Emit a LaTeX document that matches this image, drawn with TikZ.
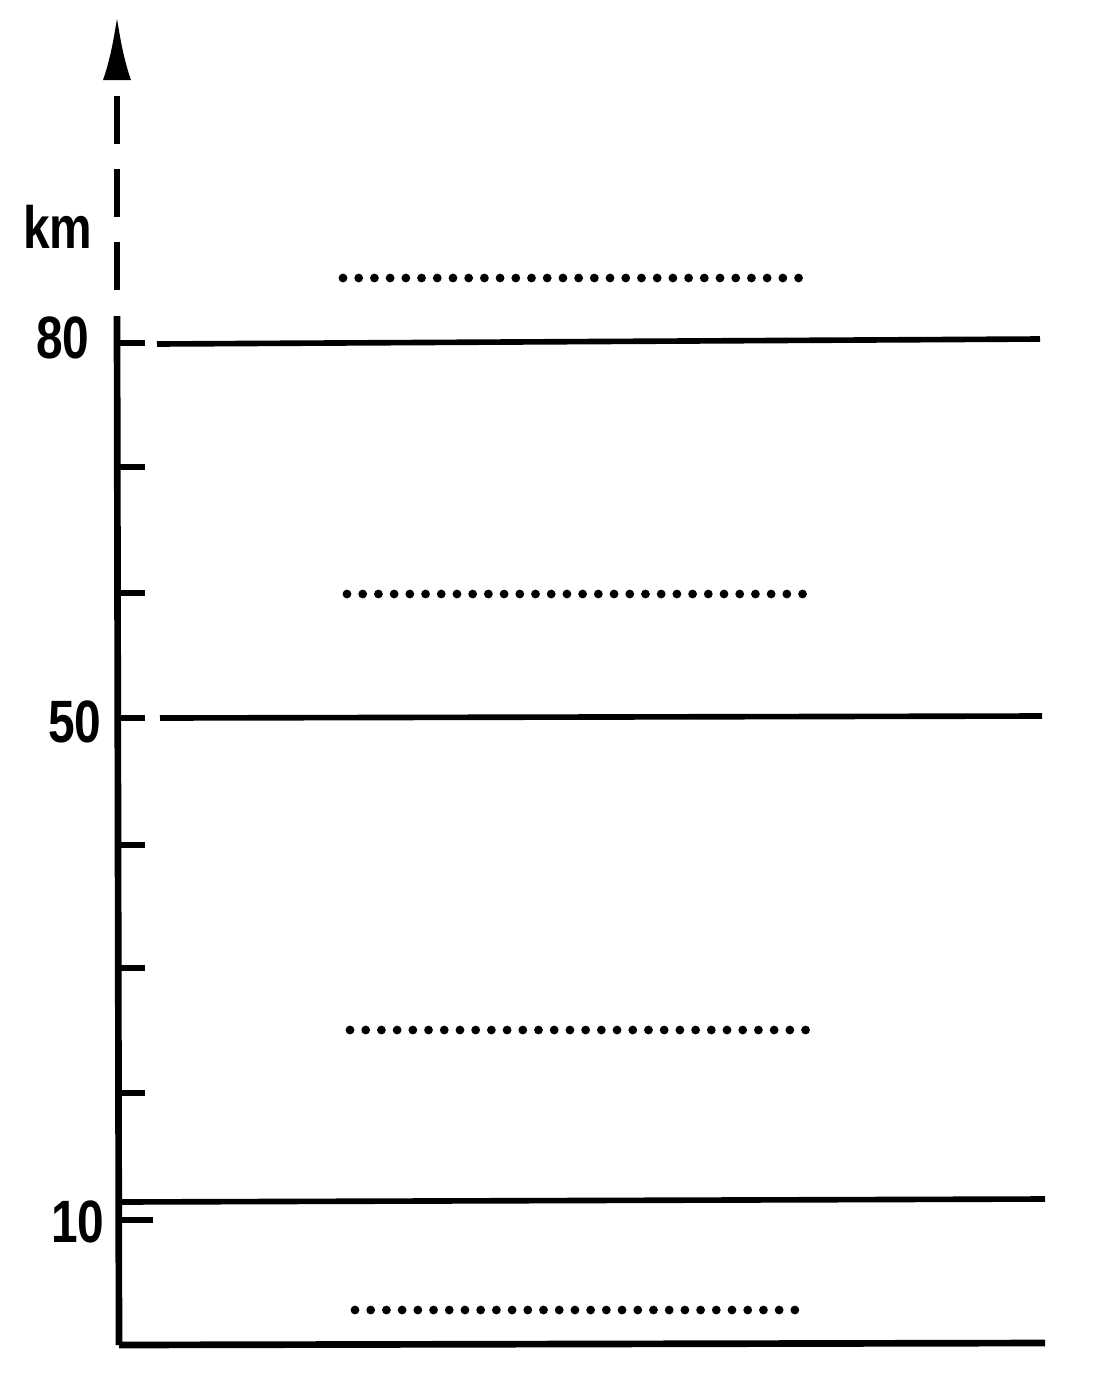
\documentclass[tikz,border=0pt]{standalone}
\usepackage{fontspec}
\setmainfont{Liberation Sans}
\usetikzlibrary{arrows.meta}

\begin{document}
\begin{tikzpicture}[x=0.01cm, y=-0.01cm,
    axis/.style={line width=1.9pt},
    level/.style={line width=1.6pt},
    dotline/.style={line width=2.5pt, line cap=round, dash pattern=on 0pt off 0.157cm},
    lbl/.style={font=\fontsize{17}{20}\selectfont\bfseries, anchor=base east, inner sep=0pt, xscale=0.8}]
  \useasboundingbox (0,0) rectangle (1110,1384);

  % Vertical axis, dashed above 80 km
  \coordinate (top) at (117,15);
  \coordinate (axtop) at (117,316);
  \coordinate (orig) at (119,1345);
  \draw[axis] (axtop) -- (orig);
  \draw[axis, dash pattern=on 0.48cm off 0.25cm, -{Latex[length=0.65cm, width=0.28cm]}] (117,290) -- (top);

  % Tick marks every 10 km
  \foreach \y in {343,467,593,718,845,968,1093}
    \draw[axis] (117,\y) -- +(28,0);
  \draw[axis] (118,1220) -- +(35,0);

  % Labels
  \node[lbl] (km) at (93,248) {km};
  \node[lbl] (l80) at (90,358) {80};
  \node[lbl] (l50) at (102,742) {50};
  \node[lbl] (l10) at (105,1242) {10};

  % Boundary levels
  \draw[level] (157,344) -- (1040,339);
  \draw[level] (160,718) -- (1042,716);
  \draw[level] (119,1202) -- (1045,1199);
  \draw[axis] (orig) -- (1045,1343);

  % Dotted layers
  \draw[dotline] (343,278) -- (800,278);
  \draw[dotline] (347,594) -- (805,594);
  \draw[dotline] (350,1030) -- (815,1030);
  \draw[dotline] (355,1310) -- (810,1310);
\end{tikzpicture}
\end{document}
